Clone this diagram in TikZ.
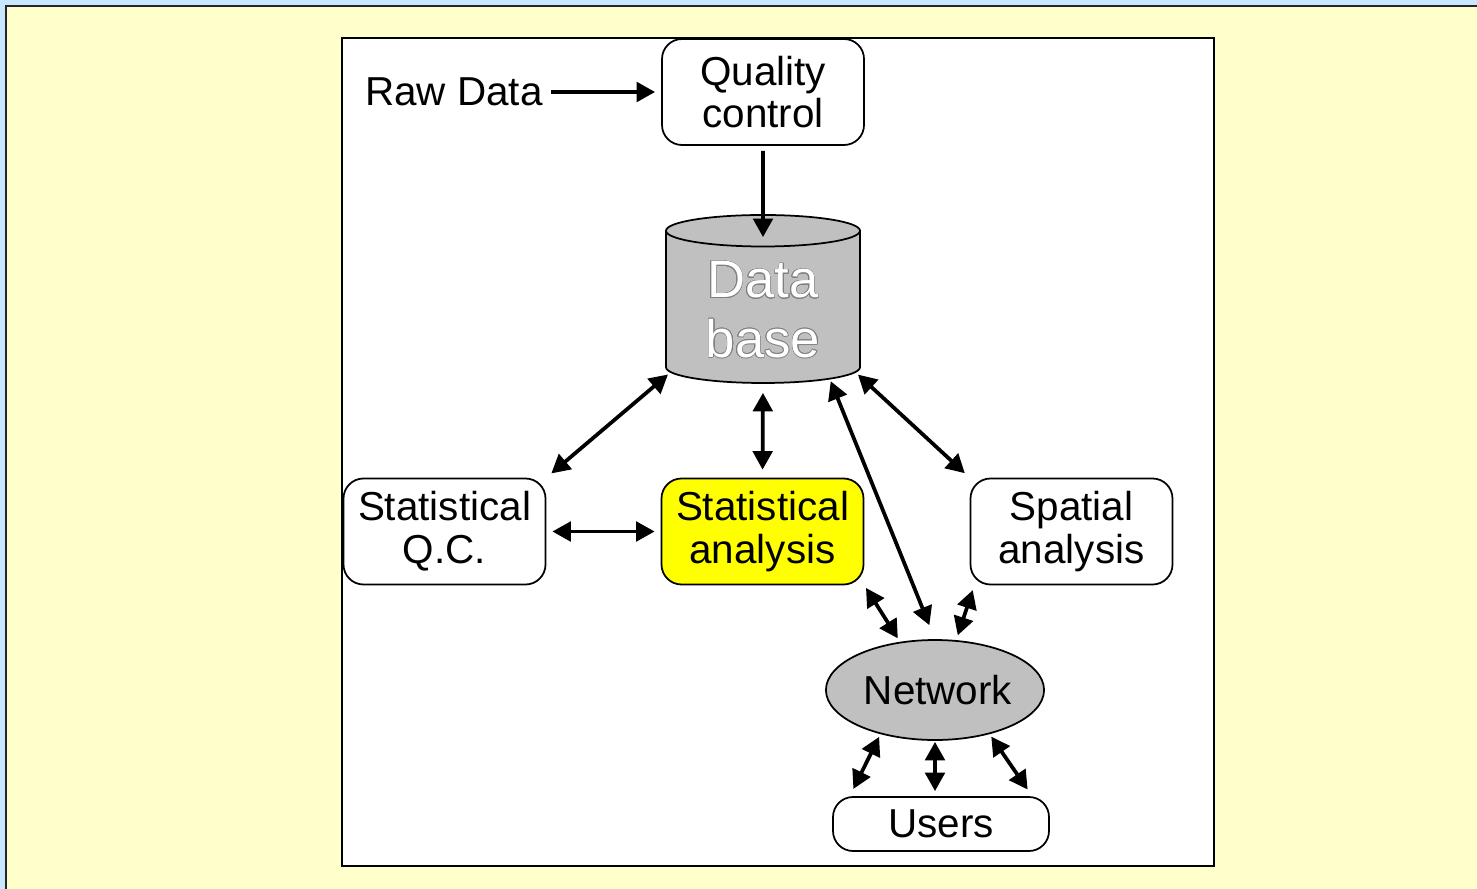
\documentclass[tikz,border=0pt]{standalone}
\usepackage{fontspec}
\setmainfont{Liberation Sans}
\usepackage{contour}
\usetikzlibrary{shapes.geometric,arrows.meta}
\definecolor{skyband}{RGB}{200,232,255}
\definecolor{paleyellow}{RGB}{255,255,204}
\definecolor{dbgray}{RGB}{192,192,192}
\definecolor{hilite}{RGB}{255,255,0}
\contourlength{0.3pt}
\contournumber{24}
\tikzset{
  procbox/.style={draw, line width=0.35mm, rounded corners=4mm, minimum width=40.4mm, minimum height=21.2mm, align=center, inner sep=0pt},
  flow/.style={line width=0.75mm, -{Triangle[length=3.7mm,width=3.9mm]}},
  twoway/.style={line width=0.75mm, {Triangle[length=3.7mm,width=3.9mm]}-{Triangle[length=3.7mm,width=3.9mm]}}
}
\begin{document}
\begin{tikzpicture}[x=0.2mm, y=-0.2mm, font=\fontsize{23}{24.4}\selectfont]
			\useasboundingbox (0,0) rectangle (1477,889);
			\fill[skyband] (0,0) rectangle (1477,889);
			\fill[paleyellow] (6,6) rectangle (1477,889);
			\draw[line width=0.4mm, black!85] (6,889) -- (6,6) -- (1477,6);
			\draw[fill=white, line width=0.4mm] (342,38) rectangle (1214,866);
			\node[inner sep=0pt, anchor=east](raw) at (543, 92){Raw Data};
			\node[procbox](qc) at (763, 92){Quality\\control};
			\node[draw, line width=0.35mm, fill=dbgray, shape=cylinder, shape border rotate=90, aspect=0.25, minimum width=38.8mm, minimum height=33.6mm, text=white, align=center, font=\fontsize{30}{34}\selectfont](db) at (763, 310){\contour{gray}{Data}\\\contour{gray}{base}};
			\node[procbox](sqc) at (444.5, 531.5){Statistical\\Q.C.};
			\node[procbox, fill=hilite](sa) at (762.5, 531.5){Statistical\\analysis};
			\node[procbox](spa) at (1071.5, 531.5){Spatial\\analysis};
			\node[draw, line width=0.35mm, fill=dbgray, shape=ellipse, minimum width=43.2mm, minimum height=20mm, inner sep=0pt](net) at (935, 690){\hspace{1.2mm}Network};
			\node[procbox, minimum width=43.2mm, minimum height=10.8mm](users) at (941, 824){Users};
			\draw[flow, shorten <=1.6mm, shorten >=1.2mm] (raw.east) -- (qc.west);
			\draw[flow, shorten <=1mm, shorten >=-4.6mm] (qc.south) -- (db.north);
			\draw[twoway, shorten <=0.6mm, shorten >=1.3mm] (db.-146) -- (sqc.north east);
			\draw[twoway, shorten <=1.8mm, shorten >=1.6mm] (db.south) -- (sa.north);
			\draw[twoway, shorten <=0.4mm, shorten >=3mm] (db.-46) -- (net.north);
			\draw[twoway, shorten <=0.6mm, shorten >=1.3mm] (db.-34) -- (spa.north west);
			\draw[twoway, shorten <=1.2mm, shorten >=1.2mm] (sqc.east) -- (sa.west);
			\draw[twoway, shorten <=0.6mm, shorten >=0.8mm] (sa.south east) -- (net.126);
			\draw[twoway, shorten <=1mm, shorten >=1mm] (spa.-151) -- (net.67);
			\draw[twoway, shorten <=0.6mm, shorten >=1.6mm] (net.-141) -- (users.163);
			\draw[twoway, shorten <=0.2mm, shorten >=1mm] (net.south) -- (net.south |- users.north);
			\draw[twoway, shorten <=0.6mm, shorten >=1.6mm] (net.-39) -- (users.17);
		\end{tikzpicture}
\end{document}
